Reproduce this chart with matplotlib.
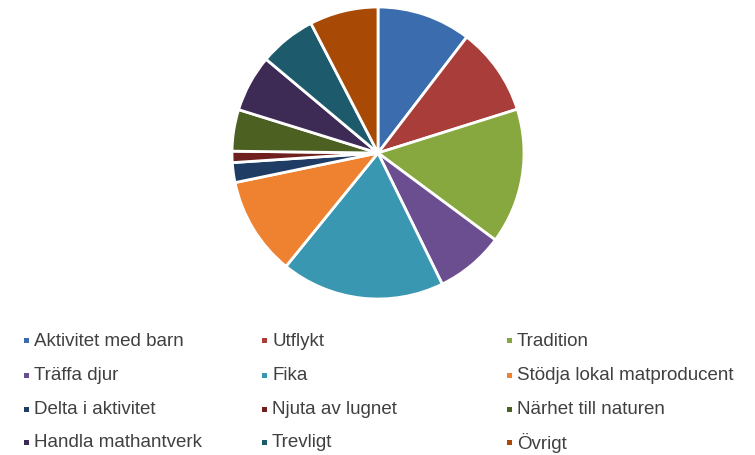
import matplotlib
matplotlib.use("Agg")
import matplotlib.pyplot as plt
from matplotlib.patches import Rectangle

plt.rcParams['font.family'] = ['Liberation Sans', 'DejaVu Sans']

# share of answers (in percent)
labels = ["Aktivitet med barn", "Utflykt", "Tradition",
          "Träffa djur", "Fika", "Stödja lokal matproducent",
          "Delta i aktivitet", "Njuta av lugnet", "Närhet till naturen",
          "Handla mathantverk", "Trevligt", "Övrigt"]
values = [10.4, 9.75, 15.0, 7.6, 18.1, 10.9, 2.2, 1.25, 4.6, 6.3, 6.3, 7.6]
colors = ["#3b6cae", "#a93d39", "#87a83f", "#6a4e8f", "#3a97b2", "#ef8230",
          "#1f3c64", "#6e1f1e", "#4b6021", "#3d2b55", "#1c5a6c", "#a84a05"]

fig = plt.figure(figsize=(7.55, 4.56), dpi=100)

# pie: centre ~ (378, 154) px, radius ~146 px
cx, cy, r = 378 / 755, 1 - 154 / 456, 146
ax = fig.add_axes([cx - r / 755, cy - r / 456, 2 * r / 755, 2 * r / 456])
ax.pie(values, colors=colors, startangle=90, counterclock=False,
       wedgeprops=dict(edgecolor="white", linewidth=2))
ax.set_aspect("equal")
ax.set_xlim(-1, 1)
ax.set_ylim(-1, 1)
ax.axis("off")

# legend, 3 columns x 4 rows
col_x = [24, 262, 507]
row_y = [341, 376, 410, 443]
for i, (lab, col) in enumerate(zip(labels, colors)):
    x = col_x[i % 3]
    y = row_y[i // 3]
    fig.patches.append(Rectangle((x / 755, 1 - (y + 2.5) / 456), 5 / 755, 5 / 456,
                                 transform=fig.transFigure, facecolor=col,
                                 edgecolor="none"))
    fig.text((x + 10) / 755, 1 - y / 456, lab, fontsize=13.5, color="#404040",
             va="center", ha="left")

fig.savefig("out.png", dpi=100)
